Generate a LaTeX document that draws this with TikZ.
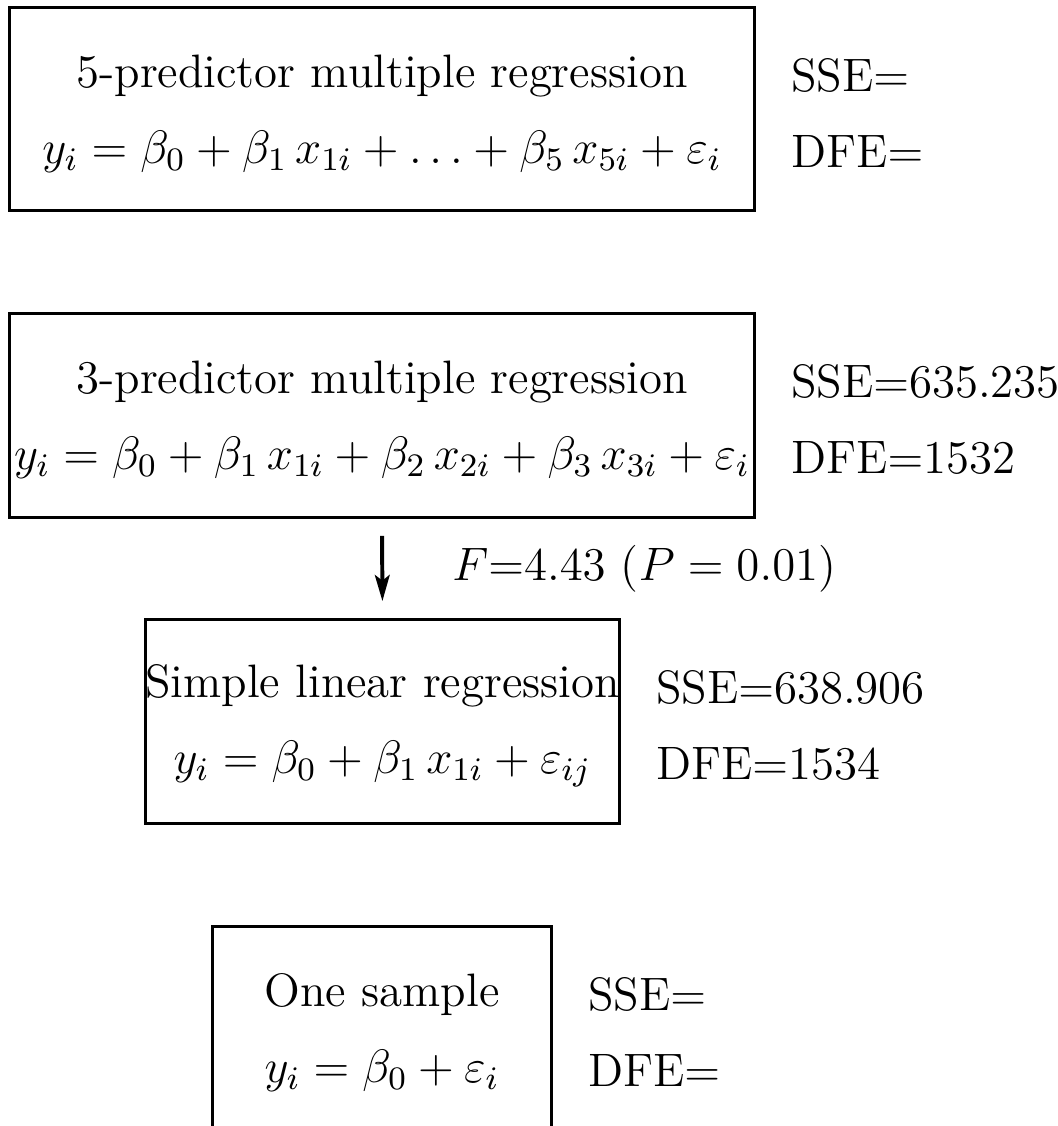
\documentclass[12pt,tikz,border=0pt]{standalone}
\usepackage{fix-cm}
\usetikzlibrary{arrows.meta}
\begin{document}
\begin{tikzpicture}[x=0.2645pt,y=-0.2645pt,
  every node/.style={font=\fontsize{12.4}{15}\selectfont},
  modelbox/.style={draw,line width=0.79pt,align=center,inner sep=0pt,minimum height=53.9pt},
  sidelab/.style={anchor=west,align=left,inner sep=0pt},
  flow/.style={line width=1.05pt,-{Stealth[length=6.9pt,width=3.9pt,inset=1.5pt]}}]
\useasboundingbox (0,0) rectangle (1057,1126);
\clip (0,0) rectangle (1057,1126);
\node[modelbox,minimum width=197.3pt] (m5) at (382,109)
  {\rule{0pt}{11pt}5-predictor multiple regression\\[5pt]
   $y_i = \beta_0 + \beta_1\,x_{1i} + \ldots + \beta_5\,x_{5i} + \varepsilon_i$};
\node[modelbox,minimum width=197.3pt] (m3) at (382,415.5)
  {\rule{0pt}{11pt}3-predictor multiple regression\\[5pt]
   $y_i = \beta_0 + \beta_1\,x_{1i} + \beta_2\,x_{2i} + \beta_3\,x_{3i} + \varepsilon_i$};
\node[modelbox,minimum width=125.6pt] (m1) at (382.5,721.5)
  {\rule{0pt}{11pt}Simple linear regression\\[5pt]
   $y_i = \beta_0 + \beta_1\,x_{1i} + \varepsilon_{ij}$};
\node[modelbox,minimum width=89.9pt] (m0) at (382,1028)
  {\rule{0pt}{11pt}One sample\\[5pt]
   $y_i = \beta_0 + \varepsilon_i$};
\node[sidelab] (s5) at ([xshift=9pt,yshift=-1pt]m5.east) {SSE$=$\\[5pt]DFE$=$};
\node[sidelab] (s3) at ([xshift=9pt,yshift=-1pt]m3.east) {SSE$=$635.235\\[5pt]DFE$=$1532};
\node[sidelab] (s1) at ([xshift=9pt,yshift=-1pt]m1.east) {SSE$=$638.906\\[5pt]DFE$=$1534};
\node[sidelab] (s0) at ([xshift=9pt,yshift=-1pt]m0.east) {SSE$=$\\[5pt]DFE$=$};
\draw[flow,shorten <=4.5pt,shorten >=4.5pt] (m3.south) -- (m1.north)
  node[midway,anchor=west,inner sep=0pt,xshift=18pt] (ft) {$F{=}4.43$ ($P = 0.01$)};
\end{tikzpicture}
\end{document}
